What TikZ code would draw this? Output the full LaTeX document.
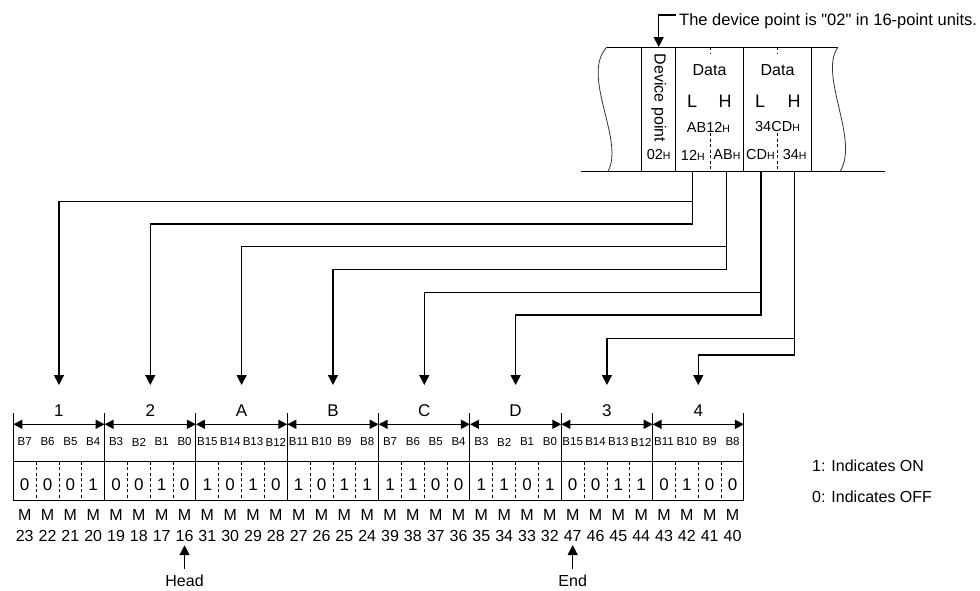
\documentclass[tikz,border=0pt]{standalone}
\usepackage{fontspec}
\setmainfont{Liberation Sans}
\newfontfamily\qfont{Liberation Sans}
\usetikzlibrary{arrows.meta}
\newcommand\myfs[1]{\fontsize{#1}{#1}\selectfont}
\begin{document}
\begin{tikzpicture}[x=1pt,y=-1pt,
  thinline/.style={line width=1pt},
  wavy/.style={line width=0.8pt,draw=black!80},
  dashline/.style={line width=0.9pt,dash pattern=on 3pt off 2.5pt},
  conn/.style={line width=1.4pt,-{Triangle[length=10pt,width=10pt]}},
  dimarrow/.style={line width=1.4pt,{Triangle[length=9pt,width=9pt]}-{Triangle[length=9pt,width=9pt]}},
  txt/.style={font=\myfs{16}},
  big/.style={font=\myfs{17}},
  small/.style={font=\myfs{11.5}}]
\useasboundingbox (0,0) rectangle (980,590);

% ---------- frame at the top ----------
\draw[thinline] (607,47) -- (838,47);
\draw[thinline] (581,171.5) -- (885,171.5);
\draw[wavy] (607,47) .. controls (580,75) and (625,140) .. (608,171.5);
\draw[wavy] (838,47) .. controls (818,75) and (860,140) .. (840,171.5);
\foreach \x in {641.7,675.7,743.3,811.7}
  \draw[thinline] (\x,47) -- (\x,171.5);
\foreach \x in {710,777.7} {
  \draw[dashline] (\x,47) -- (\x,54);
  \draw[dashline] (\x,133) -- (\x,171.5);
}
\node[rotate=-90,font=\myfs{16}] (dp) at (658.7,98) {Device point};
\node[font=\myfs{16}] (d1) at (709.5,70) {Data};
\node[font=\myfs{16}] (d2) at (777.5,70) {Data};
\node[font=\myfs{18}] (l1) at (692,101) {L};
\node[font=\myfs{18}] (h1) at (725,101) {H};
\node[font=\myfs{18}] (l2) at (760,101) {L};
\node[font=\myfs{18}] (h2) at (794,101) {H};
\node (w1) at (708.5,127) {{\myfs{14.5}AB12}{\myfs{10.5}H}};
\node (w2) at (777.5,127) {{\myfs{14.5}34CD}{\myfs{10.5}H}};
\node (c02) at (658.7,155) {{\myfs{14.5}02}{\myfs{10.5}H}};
\node (c12) at (692.8,155) {{\myfs{14.5}12}{\myfs{10.5}H}};
\node (cAB) at (726.9,155) {{\myfs{14.5}AB}{\myfs{10.5}H}};
\node (cCD) at (760.5,155) {{\myfs{14.5}CD}{\myfs{10.5}H}};
\node (c34) at (794.6,155) {{\myfs{14.5}34}{\myfs{10.5}H}};

% leader note
\node[anchor=base west,inner sep=0pt,font=\qfont\myfs{16.5}] (note) at (679,25)
  {The device point is "02" in 16-point units.};
\coordinate (lead) at (676,15);
\coordinate (dptop) at (658.7,47);
\draw[line width=1.1pt,-{Triangle[length=10pt,width=10pt]}] (lead) -| (dptop);

% ---------- bottom table ----------
\foreach \lab [count=\i from 0] in {1,2,A,B,C,D,3,4} {
  \node[big] (g\i) at (13.3+91.333*\i+45.667,411) {\lab};
  \draw[dimarrow] (13.3+91.333*\i,424.3) -- (13.3+91.333*\i+91.333,424.3);
  \coordinate (t\i) at (13.3+91.333*\i+45.667,385);
}
\foreach \i in {0,...,8}
  \draw[thinline] (13.3+91.333*\i,413) -- (13.3+91.333*\i,500);
\foreach \i in {0,...,7}
  \foreach \k in {1,2,3}
    \draw[dashline] (13.3+91.333*\i+22.833*\k,461.7) -- (13.3+91.333*\i+22.833*\k,500);
\draw[thinline] (13.3,461.7) -- (743.97,461.7);
\draw[thinline] (13.3,500) -- (743.97,500);

\foreach \b/\v/\m [count=\n from 0] in {
  B7/0/23,B6/0/22,B5/0/21,B4/1/20,
  B3/0/19,B2/0/18,B1/1/17,B0/0/16,
  B15/1/31,B14/0/30,B13/1/29,B12/0/28,
  B11/1/27,B10/0/26,B9/1/25,B8/1/24,
  B7/1/39,B6/1/38,B5/0/37,B4/0/36,
  B3/1/35,B2/1/34,B1/0/33,B0/1/32,
  B15/0/47,B14/0/46,B13/1/45,B12/1/44,
  B11/0/43,B10/1/42,B9/0/41,B8/0/40} {
  \node[small,inner sep=0pt] (b\n) at (13.3+22.833*\n+11.417,442) {\b};
  \node[big] (v\n) at (13.3+22.833*\n+11.417,485) {\v};
  \node[txt] (m\n) at (13.3+22.833*\n+11.417,515) {M};
  \node[txt] (n\n) at (13.3+22.833*\n+11.417,536) {\m};
}

% head / end
\node[txt] (head) at (n7 |- 0,581) {Head};
\node[txt] (end) at (n24 |- 0,581) {End};
\draw[conn,shorten <=3pt] (head) -- (n7);
\draw[conn,shorten <=3pt] (end) -- (n24);

% legend
\node[anchor=west,inner sep=0pt,font=\myfs{16}] (on) at (812,466) {1: Indicates ON};
\node[anchor=west,inner sep=0pt,font=\myfs{16}] (off) at (812,497) {0: Indicates OFF};

% ---------- connectors ----------
\coordinate (s12) at (692.3,171.5);
\coordinate (sAB) at (726.7,171.5);
\coordinate (sCD) at (761,171.5);
\coordinate (s34) at (794.3,171.5);
\draw[conn] (s12) -- (s12 |- 0,201.7) -| (t0);
\draw[conn] (s12) -- (s12 |- 0,224) -| (t1);
\draw[conn] (sAB) -- (sAB |- 0,246.7) -| (t2);
\draw[conn] (sAB) -- (sAB |- 0,269.3) -| (t3);
\draw[conn] (sCD) -- (sCD |- 0,292.7) -| (t4);
\draw[conn] (sCD) -- (sCD |- 0,315) -| (t5);
\draw[conn] (s34) -- (s34 |- 0,338.3) -| (t6);
\draw[conn] (s34) -- (s34 |- 0,355) -| (t7);
\end{tikzpicture}
\end{document}
